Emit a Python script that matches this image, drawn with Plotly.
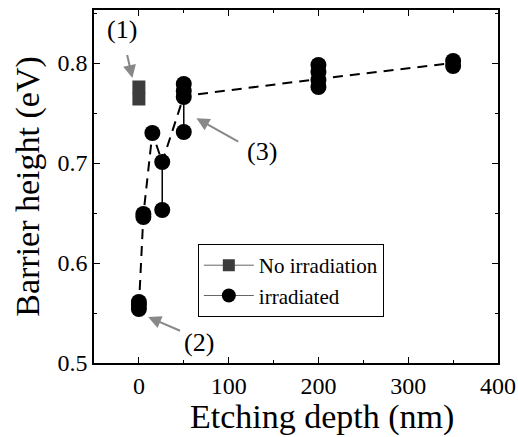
import plotly.graph_objects as go

# No irradiation (square markers)
noirr_x = [0, 0]
noirr_y = [0.764, 0.776]

# Irradiated: groups of points at each etching depth
irr_groups_x = [0, 5, 15, 26, 50, 200, 350]
irr_groups_y = [
    [0.554, 0.558, 0.561],
    [0.646, 0.649],
    [0.730],
    [0.701, 0.653],
    [0.731, 0.766, 0.772, 0.779],
    [0.776, 0.783, 0.791, 0.798],
    [0.797, 0.802],
]

# Dashed guide line
guide_x = [0, 5, 15, 26, 50, 200, 350]
guide_y = [0.556, 0.648, 0.730, 0.701, 0.767, 0.784, 0.800]

x_ticks = [0, 100, 200, 300, 400]
y_ticks = [0.5, 0.6, 0.7, 0.8]

FONT = "Liberation Serif"

irr_x, irr_y = [], []
for gx, gys in zip(irr_groups_x, irr_groups_y):
    for gy in gys:
        irr_x.append(gx)
        irr_y.append(gy)
    irr_x.append(None)
    irr_y.append(None)

fig = go.Figure()

fig.add_trace(go.Scatter(x=guide_x, y=guide_y, mode="lines",
                         line=dict(color="black", width=2, dash="10px,7px"),
                         showlegend=False, hoverinfo="skip"))
fig.add_trace(go.Scatter(x=irr_x, y=irr_y, mode="lines+markers",
                         line=dict(color="black", width=1.5),
                         marker=dict(symbol="circle", size=16, color="black"),
                         showlegend=False, connectgaps=False))
fig.add_trace(go.Scatter(x=noirr_x, y=noirr_y, mode="markers",
                         marker=dict(symbol="square", size=13, color="#3c3c3c"),
                         showlegend=False))

# legend-only traces
fig.add_trace(go.Scatter(x=[None], y=[None], mode="lines+markers", name="No irradiation",
                         line=dict(color="#666666", width=1),
                         marker=dict(symbol="square", size=12, color="#3c3c3c")))
fig.add_trace(go.Scatter(x=[None], y=[None], mode="lines+markers", name="irradiated",
                         line=dict(color="#666666", width=1),
                         marker=dict(symbol="circle", size=14, color="black")))

arrow_color = "#888888"
arrows = [
    # head (x, y), tail (ax, ay)
    (-7.2, 0.785, -15.6, 0.818),
    (64.1, 0.7447, 114.0, 0.7197),
    (10.3, 0.546, 49.2, 0.531),
]
for hx, hy, tx, ty in arrows:
    fig.add_annotation(x=hx, y=hy, ax=tx, ay=ty, xref="x", yref="y", axref="x", ayref="y",
                       text=" ", showarrow=True, arrowhead=2, arrowsize=1.3, arrowwidth=2,
                       arrowcolor=arrow_color, standoff=0, startstandoff=0)

labels = [("(1)", -18.9, 0.834), ("(3)", 136.7, 0.712), ("(2)", 66.7, 0.521)]
for t, lx, ly in labels:
    fig.add_annotation(x=lx, y=ly, xref="x", yref="y", text=t, showarrow=False,
                       font=dict(family=FONT, size=26, color="black"))

# x-axis title (placed slightly right of centre, as in the reference)
fig.add_annotation(x=0.564, y=-0.153, xref="paper", yref="paper", text="Etching depth (nm)",
                   showarrow=False, xanchor="center", yanchor="middle",
                   font=dict(family=FONT, size=34, color="black"))

axis_common = dict(
    showline=True, linecolor="black", linewidth=1.5, mirror="allticks",
    ticks="inside", ticklen=6, tickwidth=1.2, tickcolor="black",
    showgrid=False, zeroline=False, automargin=False,
    tickfont=dict(family=FONT, size=24, color="black"),
)

fig.update_xaxes(range=[-50, 400], tickvals=x_ticks,
                 minor=dict(ticks="inside", ticklen=3, dtick=50, tick0=0, tickcolor="black", showgrid=False),
                 **axis_common)
fig.update_yaxes(range=[0.5, 0.853], tickvals=y_ticks, ticktext=["0.5", "0.6", "0.7", "0.8"],
                 minor=dict(ticks="inside", ticklen=3, dtick=0.05, tick0=0.5, tickcolor="black", showgrid=False),
                 title=dict(text="Barrier height (eV)", font=dict(family=FONT, size=34, color="black"), standoff=8),
                 **axis_common)

fig.update_layout(
    width=518, height=437,
    margin=dict(l=94, r=20, t=10, b=74),
    plot_bgcolor="white", paper_bgcolor="white",
    legend=dict(x=0.257, y=0.337, xanchor="left", yanchor="top",
                bordercolor="black", borderwidth=1, bgcolor="white",
                font=dict(family=FONT, size=21, color="black"),
                tracegroupgap=0, itemwidth=50),
)

fig.write_html("out.html", config={"displayModeBar": False},
               post_script="document.body.style.margin='0';document.body.style.overflow='hidden';")
